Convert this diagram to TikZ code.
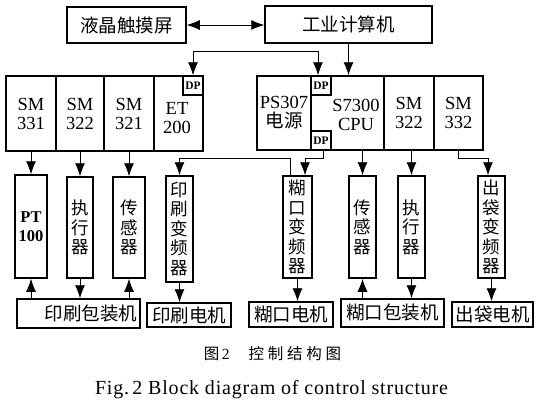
\documentclass[tikz,border=0pt]{standalone}
\usepackage{fontspec}
\setmainfont{Liberation Serif}
\newfontfamily\cjk{Noto Sans CJK SC}
\newfontfamily\cjkcap[LetterSpace=24]{Noto Sans CJK SC}
\newfontfamily\figcap[LetterSpace=4]{Liberation Serif}
\usetikzlibrary{arrows.meta}

\begin{document}
\begin{tikzpicture}[x=1pt, y=-1pt, >={Latex[length=13pt,width=10pt]},
  box/.style={draw, line width=1.5pt, inner sep=0pt},
  modtext/.style={align=center, inner sep=0pt, font=\fontsize{18.5}{19}\selectfont},
  module/.style={box, modtext, minimum height=75pt},
  dpbox/.style={box, minimum width=20pt, minimum height=19pt, font=\bfseries\fontsize{11.5}{11.5}\selectfont},
  stack/.style={box, align=center, font=\cjk\fontsize{17.5}{19.5}\selectfont},
  cjkbox/.style={box, font=\cjk\fontsize{18.5}{19}\selectfont},
  link/.style={line width=0.8pt}]

\useasboundingbox (0,0) rectangle (545,402);

% -------- top -----------
\node[cjkbox, minimum width=119pt, minimum height=36pt] (lcd) at (126.5,25) {液晶触摸屏};
\node[cjkbox, minimum width=167pt, minimum height=37pt] (ipc) at (348.5,24.5) {工业计算机};

% -------- left rack -----------
\node[module, minimum width=50pt] (smA) at (31,113.5) {SM\\331};
\node[module, minimum width=48pt] (smB) at (80,113.5) {SM\\322};
\node[module, minimum width=50pt] (smC) at (129,113.5) {SM\\321};
\node[module, minimum width=49pt] (et) at (178.5,113.5) {};
\node[modtext] (ettxt) at (177,118.5) {ET\\200};
\node[dpbox] (dpA) at (193,85.5) {DP};

% -------- right rack -----------
\node[module, minimum width=54pt, minimum height=74pt] (ps) at (284,113) {PS307\\\cjk 电源};
\node[module, minimum width=73pt, minimum height=74pt] (cpu) at (347.5,113) {};
\node[modtext] (cputxt) at (356,114.5) {S7300\\CPU};
\node[dpbox] (dpB) at (321,85.5) {DP};
\node[dpbox] (dpC) at (321,140.5) {DP};
\node[module, minimum width=50pt, minimum height=74pt] (smD) at (409,113) {SM\\322};
\node[module, minimum width=49pt, minimum height=74pt] (smE) at (458.5,113) {SM\\332};

% -------- field devices -----------
\node[stack, minimum width=32pt, minimum height=103pt, font=\bfseries\fontsize{16.5}{19}\selectfont] (pt) at (31,226.5) {PT\\100};
\node[stack, minimum width=26pt, minimum height=101pt] (actA) at (80,227.5) {执\\行\\器};
\node[stack, minimum width=32pt, minimum height=101pt] (senA) at (129,227.5) {传\\感\\器};
\node[stack, minimum width=27pt, minimum height=106pt] (invA) at (179.5,229) {印\\刷\\变\\频\\器};
\node[stack, minimum width=29pt, minimum height=102pt] (invB) at (297.5,227) {糊\\口\\变\\频\\器};
\node[stack, minimum width=27pt, minimum height=102pt] (senB) at (362.5,227) {传\\感\\器};
\node[stack, minimum width=27pt, minimum height=102pt] (actB) at (411.5,227) {执\\行\\器};
\node[stack, minimum width=27pt, minimum height=102pt] (invC) at (491.5,227) {出\\袋\\变\\频\\器};

% -------- machines -----------
\node[cjkbox, minimum width=123pt, minimum height=29pt, text width=117pt, align=right] (machA) at (78.5,313.5) {印刷包装机};
\node[cjkbox, minimum width=84pt, minimum height=24pt] (motA) at (189,315) {印刷电机};
\node[cjkbox, minimum width=84pt, minimum height=25pt] (motB) at (291,314.5) {糊口电机};
\node[cjkbox, minimum width=103pt, minimum height=28pt] (machB) at (392.5,313) {糊口包装机};
\node[cjkbox, minimum width=81pt, minimum height=25pt] (motC) at (492.5,314.5) {出袋电机};

% -------- links -----------
\coordinate (busTop) at (0,51);
\coordinate (busLow) at (0,158);
\draw[<->, link] (lcd.east) -- (lcd.east -| ipc.west);
\draw[->, link] (ipc.south) -- (ipc.south |- cpu.north);
\draw[<->, link] (dpA.north) -- (dpA.north |- busTop) -| ([xshift=-3pt]dpB.north);

\draw[->, link] (smA.south) -- (pt.north);
\draw[->, link] (smB.south) -- (actA.north);
\draw[->, link] (smC.south) -- (senA.north);
\draw[->, link] ([xshift=-7.5pt]invB.north) -- ([xshift=-7.5pt]invB.north |- busLow) -| (invA.north);
\draw[->, link] ([xshift=2pt]dpC.south) -- ([xshift=2pt]dpC.south |- busLow) -| ([xshift=7.5pt]invB.north);
\draw[->, link] (senB.north |- cpu.south) -- (senB.north);
\draw[->, link] (actB.north |- smD.south) -- (actB.north);
\draw[->, link] (smE.south) -- (smE.south |- busLow) -| ([xshift=-3.5pt]invC.north);

\draw[->, link] (pt.south |- machA.north) -- (pt.south);
\draw[->, link] (actA.south) -- (actA.south |- machA.north);
\draw[->, link] (senA.south |- machA.north) -- (senA.south);
\draw[->, link] (invA.south) -- (invA.south |- motA.north);
\draw[->, link] (invB.south) -- (invB.south |- motB.north);
\draw[->, link] (senB.south |- machB.north) -- (senB.south);
\draw[->, link] (actB.south) -- (actB.south |- machB.north);
\draw[->, link] (invC.south) -- (invC.south |- motC.north);

% -------- caption -----------
\node[font=\fontsize{15.5}{15.5}\selectfont] (capzh) at (272.5,354) {{\cjkcap 图}\,2\hspace{19pt}{\cjkcap 控制结构图}};
\node[font=\figcap\fontsize{20}{20}\selectfont] (capen) at (271.5,390) {Fig.\,2 Block diagram of control structure};
\end{tikzpicture}
\end{document}
